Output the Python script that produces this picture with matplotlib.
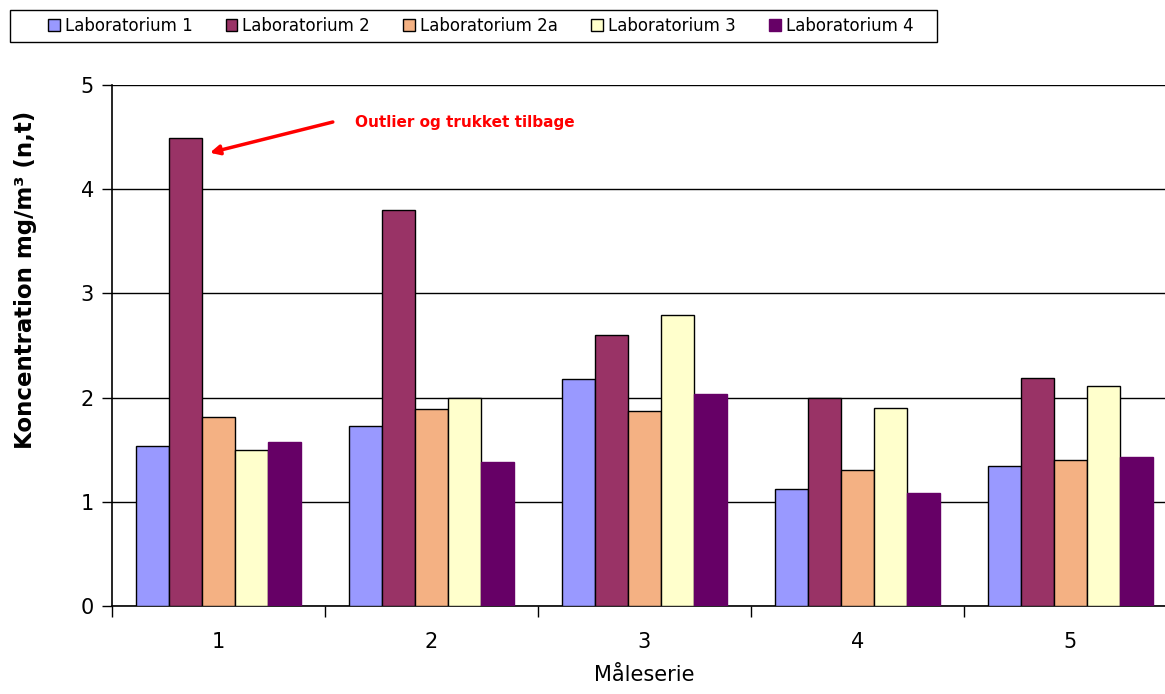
import numpy as np
import matplotlib.pyplot as plt
from matplotlib.patches import Rectangle

plt.rcParams['font.family'] = ['DejaVu Sans']

# Måleserier og målte koncentrationer pr. laboratorium
series = ['1', '2', '3', '4', '5']
labs = ['Laboratorium 1', 'Laboratorium 2', 'Laboratorium 2a',
        'Laboratorium 3', 'Laboratorium 4']
lab1 = [1.54, 1.73, 2.18, 1.12, 1.34]
lab2 = [4.49, 3.80, 2.60, 2.00, 2.19]
lab2a = [1.81, 1.89, 1.87, 1.31, 1.40]
lab3 = [1.50, 2.00, 2.79, 1.90, 2.11]
lab4 = [1.57, 1.38, 2.03, 1.08, 1.43]

colors = ['#9999FF', '#993366', '#F4B183', '#FFFFCC', '#660066']
edges = ['black', 'black', 'black', 'black', '#660066']

fig = plt.figure(figsize=(11.65, 6.94), dpi=100)
ax = fig.add_axes([0.0961, 0.1268, 0.914, 0.7507])

x = np.arange(len(series))
width = 0.155
for i, (vals, lab) in enumerate(zip([lab1, lab2, lab2a, lab3, lab4], labs)):
    ax.bar(x + (i - 2) * width, vals, width, color=colors[i],
           edgecolor=edges[i], linewidth=1.0, label=lab, zorder=3)

ax.set_xlim(-0.5, len(series) - 0.5)
ax.set_ylim(0, 5)
ax.set_yticks(range(6))
ax.yaxis.grid(True, color='black', lw=1.0, zorder=0)
ax.set_axisbelow(True)

# Kategoriaksens streger mellem grupperne
ax.set_xticks(np.arange(-0.5, len(series)), minor=False)
ax.set_xticklabels([])
ax.set_xticks(x, minor=True)
ax.set_xticklabels(series, minor=True)
ax.tick_params(axis='x', which='major', length=8, width=1, direction='out')
ax.tick_params(axis='x', which='minor', length=0, pad=19, labelsize=15)
ax.tick_params(axis='y', length=7, width=1, labelsize=15, pad=6)

for s in ('top', 'right'):
    ax.spines[s].set_visible(False)
ax.spines['left'].set_linewidth(1.2)
ax.spines['bottom'].set_linewidth(1.2)

ax.set_xlabel('Måleserie', fontsize=15, labelpad=9)
ax.set_ylabel('Koncentration mg/m³ (n,t)', fontsize=16.5, fontweight='bold')
ax.yaxis.set_label_coords(-0.0704, 0.626)

# Pil og tekst ved outlieren
ax.annotate('', xy=(-0.04, 4.35), xytext=(0.537, 4.645),
            arrowprops=dict(arrowstyle='-|>', color='red', lw=2.5,
                            mutation_scale=14, shrinkA=0, shrinkB=0))
ax.text(0.641, 4.645, 'Outlier og trukket tilbage', color='red',
        fontsize=11, fontweight='bold', va='center', ha='left')

fig.legend(loc='center left', bbox_to_anchor=(0.034, 1 - 26 / 694), ncol=5,
           frameon=False, fontsize=12,
           handlelength=0.7, handleheight=0.7, handletextpad=0.3,
           columnspacing=2.0, borderpad=0.0)
fig.patches.append(Rectangle((10 / 1165, 1 - 42 / 694), 927 / 1165, 32 / 694,
                             transform=fig.transFigure, fill=False,
                             edgecolor='black', lw=1.0))

fig.savefig('out.png', dpi=100)
